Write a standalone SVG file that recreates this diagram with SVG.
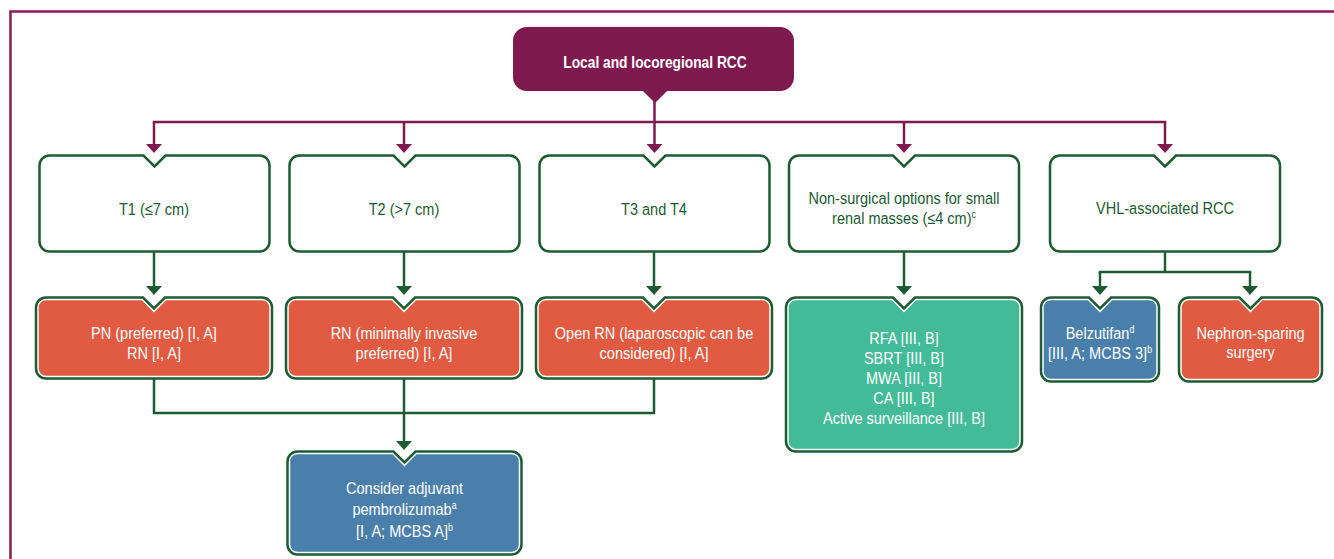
<svg xmlns="http://www.w3.org/2000/svg" xmlns:xlink="http://www.w3.org/1999/xlink" width="1334" height="559" viewBox="0 0 1334 559">
<style>
.t{font-family:"Liberation Sans",Arial,sans-serif;font-size:16.5px;text-anchor:middle}
.g{fill:#1c5a33}
.w{fill:#ffffff}
.b{font-weight:bold;font-size:17px}
.sup{font-size:10px}
.ob{fill:#ffffff;stroke:#1d5c33;stroke-width:2.5}
.red{fill:#e05b42}
.blue{fill:#4b7fab}
.teal{fill:#43bb98}
.pc{fill:none;stroke:#7f1a4f;stroke-width:2.5}
.gc{fill:none;stroke:#1d5c33;stroke-width:2.5}
</style>
<defs>
<marker id="ap" markerUnits="userSpaceOnUse" markerWidth="9" markerHeight="16" viewBox="0 0 9 16" refX="0" refY="8" orient="auto"><path d="M0,0 L9,8 L0,16 Z" fill="#7f1a4f"/></marker>
<marker id="ag" markerUnits="userSpaceOnUse" markerWidth="9" markerHeight="16" viewBox="0 0 9 16" refX="0" refY="8" orient="auto"><path d="M0,0 L9,8 L0,16 Z" fill="#1d5c33"/></marker>
<path id="wbox" d="M10,0 H104 L115,11 L126,0 H220 A10,10 0 0 1 230,10 V86 A10,10 0 0 1 220,96 H10 A10,10 0 0 1 0,86 V10 A10,10 0 0 1 10,0 Z"/>
<path id="rboxO" d="M10,0 H107 L118,11 L129,0 H226 A10,10 0 0 1 236,10 V71 A10,10 0 0 1 226,81 H10 A10,10 0 0 1 0,71 V10 A10,10 0 0 1 10,0 Z"/>
<path id="rboxI" d="M10,2.75 H105.9 L118,14.9 L130.1,2.75 H226 A7.25,7.25 0 0 1 233.25,10 V71 A7.25,7.25 0 0 1 226,78.25 H10 A7.25,7.25 0 0 1 2.75,71 V10 A7.25,7.25 0 0 1 10,2.75 Z"/>
</defs>
<rect width="1334" height="559" fill="#ffffff"/>
<path d="M10.5,559 V11.5 H1334" fill="none" stroke="#861c55" stroke-width="2.5"/>

<g id="connectors">
<path class="pc" d="M654.5,100 V144" marker-end="url(#ap)"/>
<path class="pc" d="M152.75,122 H1166.25"/>
<path class="pc" d="M154,122 V144" marker-end="url(#ap)"/>
<path class="pc" d="M404,122 V144" marker-end="url(#ap)"/>
<path class="pc" d="M904,122 V144" marker-end="url(#ap)"/>
<path class="pc" d="M1165,122 V144" marker-end="url(#ap)"/>
<path class="gc" d="M154,252 V286" marker-end="url(#ag)"/>
<path class="gc" d="M404,252 V286" marker-end="url(#ag)"/>
<path class="gc" d="M654,252 V286" marker-end="url(#ag)"/>
<path class="gc" d="M904,251 V286" marker-end="url(#ag)"/>
<path class="gc" d="M1165,252 V272"/>
<path class="gc" d="M1098.75,272 H1251.25"/>
<path class="gc" d="M1100,272 V286" marker-end="url(#ag)"/>
<path class="gc" d="M1250,272 V286" marker-end="url(#ag)"/>
<path class="gc" d="M154,379 V413 H654 V379"/>
<path class="gc" d="M404,379 V441" marker-end="url(#ag)"/>
</g>

<g id="root">
<path d="M527,27 H780 A14,14 0 0 1 794,41 V77 A14,14 0 0 1 780,91 H667 L655,103 L643,91 H527 A14,14 0 0 1 513,77 V41 A14,14 0 0 1 527,27 Z" fill="#7f1a4f"/>
<text class="t w b" transform="translate(655,67.5) scale(0.81,1)" x="0" y="0">Local and locoregional RCC</text>
</g>

<g id="t1">
<use xlink:href="#wbox" class="ob" transform="translate(39.5,155.5)"/>
<text class="t g" transform="translate(154,0) scale(0.88,1)" x="0" y="215">T1 (≤7 cm)</text>
</g>
<g id="t2">
<use xlink:href="#wbox" class="ob" transform="translate(289.5,155.5)"/>
<text class="t g" transform="translate(404,0) scale(0.88,1)" x="0" y="215">T2 (&gt;7 cm)</text>
</g>
<g id="t3t4">
<use xlink:href="#wbox" class="ob" transform="translate(539.5,155.5)"/>
<text class="t g" transform="translate(654,0) scale(0.88,1)" x="0" y="215">T3 and T4</text>
</g>
<g id="nonsurgical">
<use xlink:href="#wbox" class="ob" transform="translate(789,155.5)"/>
<text class="t g" transform="translate(904,0) scale(0.88,1)"><tspan x="0" y="204.5">Non-surgical options for small</tspan><tspan x="0" y="224.5">renal masses (≤4 cm)<tspan class="sup" dy="-6">c</tspan></tspan></text>
</g>
<g id="vhl">
<use xlink:href="#wbox" class="ob" transform="translate(1050,155.5)"/>
<text class="t g" transform="translate(1165,0) scale(0.88,1)" x="0" y="214.5">VHL-associated RCC</text>
</g>

<g id="pn">
<use xlink:href="#rboxO" class="ob" transform="translate(36,297.5)"/>
<use xlink:href="#rboxI" class="red" transform="translate(36,297.5)"/>
<text class="t w" transform="translate(154,0) scale(0.88,1)"><tspan x="0" y="339">PN (preferred) [I, A]</tspan><tspan x="0" y="359">RN [I, A]</tspan></text>
</g>
<g id="rn">
<use xlink:href="#rboxO" class="ob" transform="translate(286,297.5)"/>
<use xlink:href="#rboxI" class="red" transform="translate(286,297.5)"/>
<text class="t w" transform="translate(404,0) scale(0.88,1)"><tspan x="0" y="339">RN (minimally invasive</tspan><tspan x="0" y="359">preferred) [I, A]</tspan></text>
</g>
<g id="openrn">
<use xlink:href="#rboxO" class="ob" transform="translate(536,297.5)"/>
<use xlink:href="#rboxI" class="red" transform="translate(536,297.5)"/>
<text class="t w" transform="translate(654,0) scale(0.88,1)"><tspan x="0" y="339">Open RN (laparoscopic can be</tspan><tspan x="0" y="359">considered) [I, A]</tspan></text>
</g>

<g id="ablation">
<path class="ob" transform="translate(786,297.5)" d="M10,0 H107 L118,11 L129,0 H226 A10,10 0 0 1 236,10 V144 A10,10 0 0 1 226,154 H10 A10,10 0 0 1 0,144 V10 A10,10 0 0 1 10,0 Z"/>
<path class="teal" transform="translate(786,297.5)" d="M10,2.75 H105.9 L118,14.9 L130.1,2.75 H226 A7.25,7.25 0 0 1 233.25,10 V144 A7.25,7.25 0 0 1 226,151.25 H10 A7.25,7.25 0 0 1 2.75,144 V10 A7.25,7.25 0 0 1 10,2.75 Z"/>
<text class="t w" transform="translate(904,0) scale(0.88,1)"><tspan x="0" y="344">RFA [III, B]</tspan><tspan x="0" y="364">SBRT [III, B]</tspan><tspan x="0" y="384">MWA [III, B]</tspan><tspan x="0" y="404">CA [III, B]</tspan><tspan x="0" y="424.5">Active surveillance [III, B]</tspan></text>
</g>

<g id="belzutifan">
<path class="ob" transform="translate(1041,297.5)" d="M10,0 H48 L59,11 L70,0 H108 A10,10 0 0 1 118,10 V74 A10,10 0 0 1 108,84 H10 A10,10 0 0 1 0,74 V10 A10,10 0 0 1 10,0 Z"/>
<path class="blue" transform="translate(1041,297.5)" d="M10,2.75 H46.9 L59,14.9 L71.1,2.75 H108 A7.25,7.25 0 0 1 115.25,10 V74 A7.25,7.25 0 0 1 108,81.25 H10 A7.25,7.25 0 0 1 2.75,74 V10 A7.25,7.25 0 0 1 10,2.75 Z"/>
<text class="t w" transform="translate(1100,0) scale(0.88,1)"><tspan x="0" y="339">Belzutifan<tspan class="sup" dy="-6">d</tspan></tspan><tspan x="0" y="359">[III, A; MCBS 3]<tspan class="sup" dy="-6">b</tspan></tspan></text>
</g>

<g id="nephron">
<path class="ob" transform="translate(1179,297.5)" d="M10,0 H60.5 L71.5,11 L82.5,0 H133 A10,10 0 0 1 143,10 V74 A10,10 0 0 1 133,84 H10 A10,10 0 0 1 0,74 V10 A10,10 0 0 1 10,0 Z"/>
<path class="red" transform="translate(1179,297.5)" d="M10,2.75 H59.4 L71.5,14.9 L83.6,2.75 H133 A7.25,7.25 0 0 1 140.25,10 V74 A7.25,7.25 0 0 1 133,81.25 H10 A7.25,7.25 0 0 1 2.75,74 V10 A7.25,7.25 0 0 1 10,2.75 Z"/>
<text class="t w" transform="translate(1250.5,0) scale(0.88,1)"><tspan x="0" y="339">Nephron-sparing</tspan><tspan x="0" y="358.5">surgery</tspan></text>
</g>

<g id="adjuvant">
<path class="ob" transform="translate(287.5,451.5)" d="M10,0 H106 L117,11 L128,0 H224 A10,10 0 0 1 234,10 V93 A10,10 0 0 1 224,103 H10 A10,10 0 0 1 0,93 V10 A10,10 0 0 1 10,0 Z"/>
<path class="blue" transform="translate(287.5,451.5)" d="M10,2.75 H104.9 L117,14.9 L129.1,2.75 H224 A7.25,7.25 0 0 1 231.25,10 V93 A7.25,7.25 0 0 1 224,100.25 H10 A7.25,7.25 0 0 1 2.75,93 V10 A7.25,7.25 0 0 1 10,2.75 Z"/>
<text class="t w" transform="translate(404.5,0) scale(0.88,1)"><tspan x="0" y="494">Consider adjuvant</tspan><tspan x="0" y="515.5">pembrolizumab<tspan class="sup" dy="-6">a</tspan></tspan><tspan x="0" y="537">[I, A; MCBS A]<tspan class="sup" dy="-6">b</tspan></tspan></text>
</g>
</svg>
